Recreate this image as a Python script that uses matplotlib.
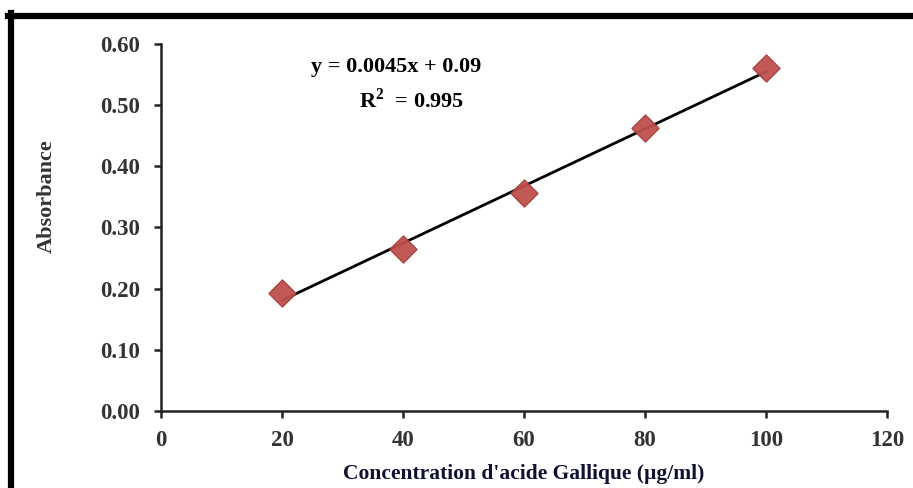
import numpy as np
import matplotlib
matplotlib.use("Agg")
import matplotlib.pyplot as plt
from matplotlib.lines import Line2D

### data ###
conc = [20, 40, 60, 80, 100]
absorbance = [0.193, 0.265, 0.356, 0.463, 0.561]
x_ticks = [0, 20, 40, 60, 80, 100, 120]
y_ticks = [0.0, 0.1, 0.2, 0.3, 0.4, 0.5, 0.6]
eq_text = "y = 0.0045x + 0.09"
r2_text = "R$^2$  = 0.995"
#====================

plt.rcParams['font.family'] = ['Liberation Serif', 'DejaVu Serif']
plt.rcParams['mathtext.fontset'] = 'custom'
plt.rcParams['mathtext.rm'] = 'Liberation Serif:bold'

fig = plt.figure(figsize=(9.13, 4.88), dpi=100)
ax = fig.add_axes([0.1763, 0.1578, 0.7952, 0.7524])

# linear trend from the points
slope, inter = np.polyfit(conc, absorbance, 1)
xs = np.array([conc[0], conc[-1]])
ax.plot(xs, slope * xs + inter, color='black', lw=2, zorder=2)
ax.scatter(conc, absorbance, marker='D', s=190, color='#c0504d',
           edgecolor='#a5413e', linewidth=1, zorder=3, alpha=0.95)

ax.set_xlim(0, 120)
ax.set_ylim(0, 0.6)
ax.set_xticks(x_ticks)
ax.set_yticks(y_ticks)
ax.set_yticklabels([f"{v:.2f}" for v in y_ticks])
for s in ['top', 'right']:
    ax.spines[s].set_visible(False)
for s in ['left', 'bottom']:
    ax.spines[s].set_linewidth(1.8)
    ax.spines[s].set_color('#222222')
ax.tick_params(direction='out', length=5, width=1.8, color='#222222',
               labelsize=16.5)
ax.tick_params(axis='y', pad=10)
ax.tick_params(axis='x', pad=9)
for lab in ax.get_xticklabels() + ax.get_yticklabels():
    lab.set_fontweight('bold')
    lab.set_color('#333333')

ax.set_xlabel("Concentration d'acide Gallique (\u00b5g/ml)", fontsize=15.5,
              fontweight='bold', color='#111133', labelpad=9)
ax.set_ylabel("Absorbance", fontsize=16, fontweight='bold', color='#333333')
ax.yaxis.set_label_coords(-0.143, 0.586)

ax.text(38.8, 0.562, eq_text, ha='center', va='center', fontsize=16,
        fontweight='bold')
ax.text(32.8, 0.507, r2_text, ha='left', va='center', fontsize=16,
        fontweight='bold')

# outer frame (top and left only)
fig.add_artist(Line2D([8 / 913, 1.0], [1 - 15.5 / 488, 1 - 15.5 / 488],
                      color='black', lw=4.5, transform=fig.transFigure))
fig.add_artist(Line2D([10.5 / 913, 10.5 / 913], [0, 1 - 13 / 488],
                      color='black', lw=4.5, transform=fig.transFigure))

fig.savefig('out.png', dpi=100)
